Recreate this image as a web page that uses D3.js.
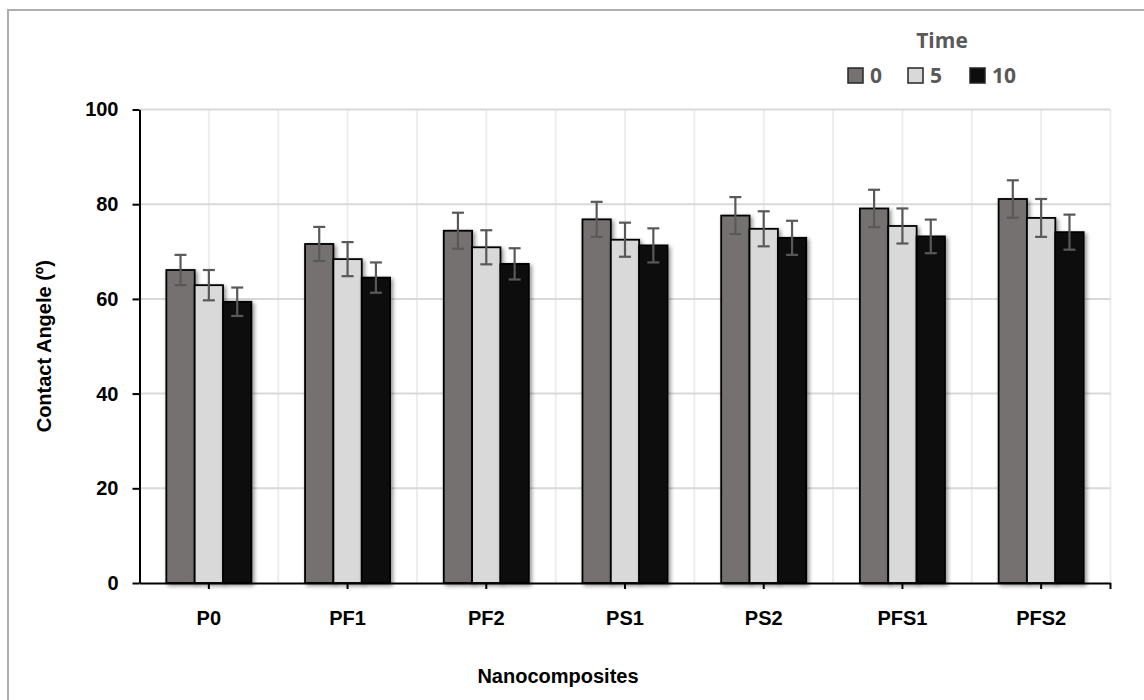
<!DOCTYPE html>
<meta charset="utf-8">
<style>
body { margin: 0; background: #fff; }
svg { font-family: "Liberation Sans", Arial, sans-serif; }
.axis text { font-weight: bold; font-size: 20px; fill: #000; }
.axis path, .axis line { stroke: #000; stroke-width: 2; }
.legend text { font-family: "Open Sans", sans-serif; font-weight: bold; font-size: 21px; fill: #595959; }
</style>
<svg width="1144" height="700">
<defs>
  <filter id="shadow" x="-20%" y="-5%" width="150%" height="115%">
    <feGaussianBlur in="SourceAlpha" stdDeviation="2"></feGaussianBlur>
    <feOffset dx="2" dy="2" result="offsetblur"></feOffset>
    <feComponentTransfer><feFuncA type="linear" slope="0.45"></feFuncA></feComponentTransfer>
    <feMerge>
      <feMergeNode></feMergeNode>
      <feMergeNode in="SourceGraphic"></feMergeNode>
    </feMerge>
  </filter>
</defs>
</svg>
<script src="https://d3js.org/d3.v7.min.js"></script>
<script>

var categories = ["P0", "PF1", "PF2", "PS1", "PS2", "PFS1", "PFS2"];
var times = ["0", "5", "10"];
var values0 = [66.1, 71.6, 74.4, 76.8, 77.6, 79.1, 81.1];
var values5 = [62.9, 68.4, 70.9, 72.5, 74.8, 75.4, 77.1];
var values10 = [59.4, 64.5, 67.4, 71.3, 72.9, 73.2, 74.1];
var err0 = [3.2, 3.6, 3.8, 3.7, 3.9, 3.95, 3.95];
var err5 = [3.2, 3.6, 3.6, 3.6, 3.7, 3.7, 4.0];
var err10 = [3.0, 3.2, 3.3, 3.6, 3.6, 3.55, 3.7];
var yTicks = [0, 20, 40, 60, 80, 100];

var colors = ["#767171", "#d9d9d9", "#0d0d0d"];
var series = [values0, values5, values10];
var errors = [err0, err5, err10];

var data = [];
categories.forEach(function(c, i) {
  times.forEach(function(t, j) {
    data.push({cat: c, time: t, value: series[j][i], err: errors[j][i], color: colors[j]});
  });
});

var svg = d3.select("svg");

// outer chart border (only left and top visible)
svg.append("rect")
  .attr("x", 8).attr("y", 10)
  .attr("width", 1200).attr("height", 760)
  .attr("fill", "none").attr("stroke", "#b0adad").attr("stroke-width", 2);

var plotL = 139.5, plotR = 1110.5, plotT = 109.5, plotB = 583;

var x = d3.scaleBand().domain(categories).range([plotL, plotR])
    .paddingInner(0.387).paddingOuter(0.1935);
var x1 = d3.scaleBand().domain(times).range([0, x.bandwidth()]);
var y = d3.scaleLinear().domain([0, 100]).range([plotB, plotT]);

// vertical gridlines: centres and boundaries
var vlines = [];
categories.forEach(function(c) {
  var cx = x(c) + x.bandwidth() / 2;
  vlines.push(cx);
  vlines.push(cx + x.step() / 2);
});
svg.append("g").selectAll("line").data(vlines).enter().append("line")
  .attr("x1", function(d) { return d; }).attr("x2", function(d) { return d; })
  .attr("y1", plotT).attr("y2", plotB)
  .attr("stroke", "#ededed").attr("stroke-width", 2);

// horizontal gridlines
svg.append("g").selectAll("line").data(yTicks.slice(1)).enter().append("line")
  .attr("x1", plotL).attr("x2", plotR)
  .attr("y1", function(d) { return y(d); }).attr("y2", function(d) { return y(d); })
  .attr("stroke", "#d9d9d9").attr("stroke-width", 2);

// bars
svg.append("g").selectAll("rect").data(data).enter().append("rect")
  .attr("x", function(d) { return x(d.cat) + x1(d.time); })
  .attr("y", function(d) { return y(d.value); })
  .attr("width", x1.bandwidth())
  .attr("height", function(d) { return y(0) - y(d.value); })
  .attr("fill", function(d) { return d.color; })
  .attr("stroke", "#000").attr("stroke-width", 1.8)
  .attr("filter", "url(#shadow)");

// error bars
var eb = svg.append("g").attr("stroke", "#595959").attr("stroke-width", 2.2);
data.forEach(function(d) {
  var cx = x(d.cat) + x1(d.time) + x1.bandwidth() / 2;
  eb.append("line").attr("x1", cx).attr("x2", cx)
    .attr("y1", y(d.value + d.err)).attr("y2", y(d.value - d.err));
  [d.value + d.err, d.value - d.err].forEach(function(v) {
    eb.append("line").attr("x1", cx - 6).attr("x2", cx + 6)
      .attr("y1", y(v)).attr("y2", y(v));
  });
});

// axes
svg.append("g").attr("class", "axis")
  .attr("transform", "translate(" + plotL + ",0)")
  .call(d3.axisLeft(y).tickValues(yTicks).tickSize(7).tickSizeOuter(0).tickPadding(14));

var xAxis = svg.append("g").attr("class", "axis")
  .attr("transform", "translate(0," + plotB + ")")
  .call(d3.axisBottom(x).tickSize(6).tickSizeOuter(0).tickPadding(22));
xAxis.append("line").attr("x1", plotR).attr("x2", plotR).attr("y1", 0).attr("y2", 6);

// axis titles
svg.append("text")
  .attr("transform", "translate(51," + ((plotT + plotB) / 2) + ") rotate(-90)")
  .attr("text-anchor", "middle")
  .style("font-weight", "bold").style("font-size", "20px")
  .text("Contact Angele (º)");

svg.append("text")
  .attr("x", 558).attr("y", 683)
  .attr("text-anchor", "middle")
  .style("font-weight", "bold").style("font-size", "20px")
  .text("Nanocomposites");

// legend
var legend = svg.append("g").attr("class", "legend");
legend.append("text").attr("x", 942).attr("y", 48).attr("text-anchor", "middle").text("Time");
var legX = [848, 908, 970];
times.forEach(function(t, j) {
  legend.append("rect").attr("x", legX[j]).attr("y", 68).attr("width", 15).attr("height", 15)
    .attr("fill", colors[j]).attr("stroke", "#262626").attr("stroke-width", 1.5);
  legend.append("text").attr("x", legX[j] + 22).attr("y", 83).text(t);
});

</script>
